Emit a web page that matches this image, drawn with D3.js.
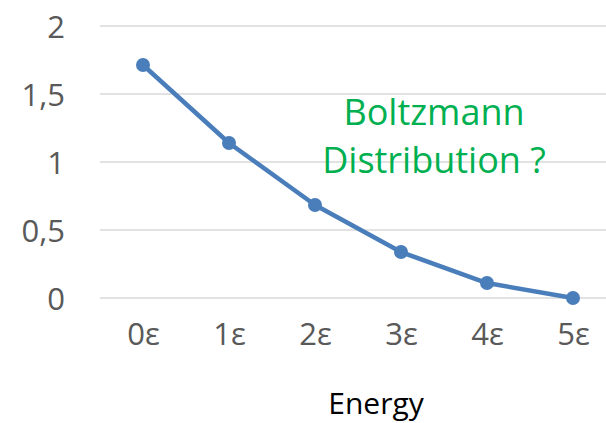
<!DOCTYPE html>
<html>
<head>
<meta charset="utf-8">
<script src="https://cdn.jsdelivr.net/npm/d3@7"></script>
<style>
  body { margin: 0; background: #fff; }
  svg { display: block; }
</style>
</head>
<body>
<script>
  var categories = ["0ε", "1ε", "2ε", "3ε", "4ε", "5ε"];
  var values = [1.713, 1.14, 0.684, 0.338, 0.11, 0];
  var yTicks = [0, 0.5, 1, 1.5, 2];
  var note = ["Boltzmann", "Distribution ?"];

  var width = 606, height = 423;
  var font = "'Open Sans', 'Noto Sans', sans-serif";

  var svg = d3.select("body").append("svg")
      .attr("width", width)
      .attr("height", height);

  var x = d3.scalePoint().domain(categories).range([143, 573]);
  var y = d3.scaleLinear().domain([0, 2]).range([298, 26]);

  // gridlines
  svg.append("g").selectAll("line").data(yTicks).enter()
    .append("line")
      .attr("x1", 100).attr("x2", 606)
      .attr("y1", function(d){ return y(d); })
      .attr("y2", function(d){ return y(d); })
      .style("stroke", "#d9d9d9")
      .style("stroke-width", 1.5);

  var yAxis = svg.append("g")
      .attr("transform", "translate(65,0)")
      .call(d3.axisLeft(y).tickValues(yTicks).tickSize(0).tickPadding(0)
        .tickFormat(function(d){ return String(d).replace(".", ","); }));
  yAxis.select(".domain").remove();
  yAxis.selectAll("text")
      .attr("dy", "0.36em")
      .style("font-family", font).style("font-size", "31px").style("fill", "#595959");

  var xAxis = svg.append("g")
      .attr("transform", "translate(0,323)")
      .call(d3.axisBottom(x).tickSize(0).tickPadding(0));
  xAxis.select(".domain").remove();
  xAxis.selectAll("text")
      .attr("dy", "0.71em")
      .style("font-family", font).style("font-size", "31px").style("fill", "#595959");

  var line = d3.line()
      .x(function(d, i){ return x(categories[i]); })
      .y(function(d){ return y(d); });

  svg.append("path")
      .datum(values)
      .attr("d", line)
      .style("fill", "none")
      .style("stroke", "#4a7ebb")
      .style("stroke-width", 4.5)
      .style("stroke-linejoin", "round");

  svg.append("g").selectAll("circle").data(values).enter()
    .append("circle")
      .attr("cx", function(d, i){ return x(categories[i]); })
      .attr("cy", function(d){ return y(d); })
      .attr("r", 7)
      .style("fill", "#4a7ebb");

  svg.append("text")
      .attr("x", 376).attr("y", 414)
      .attr("text-anchor", "middle")
      .style("font-family", font).style("font-size", "30px").style("fill", "#000")
      .text("Energy");

  svg.append("g").selectAll("text").data(note).enter()
    .append("text")
      .attr("x", 434)
      .attr("y", function(d, i){ return 125 + i * 48; })
      .attr("text-anchor", "middle")
      .style("font-family", font).style("font-size", "36px").style("fill", "#00b050")
      .text(function(d){ return d; });
</script>
</body>
</html>
